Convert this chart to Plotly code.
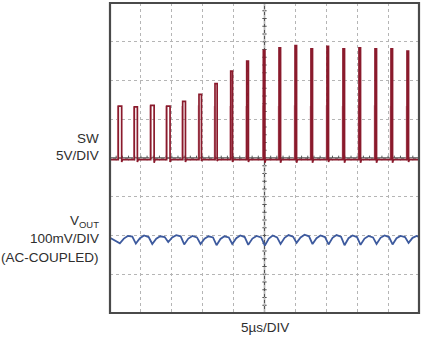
import plotly.graph_objects as go

# ---------------- data ----------------
# SW node: pulse start times (µs), peak voltage (V), on-time (µs), undershoot (V)
sw_t_us = [1.34, 3.93, 6.59, 9.17, 11.76, 14.40, 16.99, 19.53, 22.12, 24.81,
           27.35, 29.94, 32.52, 35.11, 37.70, 40.29, 42.88, 45.47, 48.06]
sw_peak_v = [6.7, 6.6, 6.8, 6.7, 7.3, 8.2, 9.6, 11.2, 12.5, 13.9,
             14.2, 14.5, 14.1, 14.4, 14.1, 14.2, 14.1, 14.1, 13.8]
sw_on_us = [0.55, 0.50, 0.55, 0.55, 0.45, 0.40, 0.35, 0.30, 0.28, 0.25,
            0.25, 0.25, 0.25, 0.25, 0.25, 0.25, 0.25, 0.25, 0.25]
sw_under_v = [0.5, 0.5, 0.6, 0.5, 0.5, 0.4, 0.4, 0.5, 0.5, 0.6,
              0.6, 0.6, 0.6, 0.5, 0.6, 0.6, 0.6, 0.6, 0.5]
sw_base_v = -0.2
# faint persistence ghost of the SW pulses (V)
ghost_peak_v = [6.7, 6.6, 6.8, 6.7, 6.7, 6.8, 6.7, 6.7, 6.7, 6.8,
                6.7, 6.8, 6.7, 6.8, 6.7, 6.7, 6.8, 6.7, 6.7]

# VOUT ripple (mV, AC-coupled), per switching cycle
vout_cusp_mv = [-20, -21, -22, -17, -23, -22, -25, -22, -24, -26,
                -22, -19, -22, -23, -25, -24, -22, -23, -19]
vout_rise_mv = [-8, -7, -8, -5, -8, -8, -9, -7, -8, -8,
                -6, -5, -7, -6, -7, -8, -6, -7, -6]
vout_peak_mv = [-1, 0, -2, 1, -1, -2, -2, 0, -1, 0,
                1, 2, 0, 1, 0, -1, 0, -1, -1]
vout_fall_mv = [-3, -4, -4, -2, -5, -5, -5, -4, -5, -5,
                -3, -2, -4, -3, -4, -5, -4, -4, -3]
vout_start_mv = -6
vout_end_mv = -4

# scope settings
sw_v_per_div = 5.0
vout_mv_per_div = 100.0
vout_offset_div = -2.0
time_per_div_us = 5.0
n_xdiv, n_ydiv = 10, 8

# ---------------- build traces ----------------
sw_x, sw_y = [0.0], [sw_base_v / sw_v_per_div]
for t, h, w, u in zip(sw_t_us, sw_peak_v, sw_on_us, sw_under_v):
    sw_x += [t, t, t + w, t + w, t + w + 0.15]
    sw_y += [sw_base_v / sw_v_per_div, h / sw_v_per_div, h / sw_v_per_div,
             -u / sw_v_per_div, sw_base_v / sw_v_per_div]
sw_x.append(n_xdiv * time_per_div_us)
sw_y.append(sw_base_v / sw_v_per_div)

gh_x, gh_y = [], []
for t, h in zip(sw_t_us, ghost_peak_v):
    gh_x += [t - 0.1, t - 0.1, None]
    gh_y += [sw_base_v / sw_v_per_div, h / sw_v_per_div, None]

vo_x, vo_y = [0.0], [vout_start_mv]
cusp_t = [t + 0.25 for t in sw_t_us]
for i, tc in enumerate(cusp_t):
    T = (cusp_t[i + 1] - tc) if i + 1 < len(cusp_t) else 2.59
    pts = [(tc, vout_cusp_mv[i]), (tc + 0.25 * T, vout_rise_mv[i]),
           (tc + 0.5 * T, vout_peak_mv[i]), (tc + 0.78 * T, vout_fall_mv[i])]
    for px, py in pts:
        if px <= 50:
            vo_x.append(px)
            vo_y.append(py)
vo_x.append(50.0)
vo_y.append(vout_end_mv)
vo_y = [vout_offset_div + v / vout_mv_per_div for v in vo_y]

fig = go.Figure()
fig.add_trace(go.Scatter(x=gh_x, y=gh_y, mode="lines",
                         line=dict(color="#dcaab3", width=1.4),
                         hoverinfo="skip", showlegend=False))
fig.add_trace(go.Scatter(x=sw_x, y=sw_y, mode="lines",
                         line=dict(color="#8a1a2c", width=1.7),
                         showlegend=False))
fig.add_trace(go.Scatter(x=vo_x, y=vo_y, mode="lines",
                         line=dict(color="#3d5a9e", width=1.8),
                         showlegend=False))

# ---------------- graticule ----------------
xmax = n_xdiv * time_per_div_us
ymax = n_ydiv / 2
shapes = []
xc = xmax / 2
shapes.append(dict(type="line", x0=xc, x1=xc, y0=-ymax, y1=ymax,
                   line=dict(color="#555555", width=1.3), layer="below"))
shapes.append(dict(type="line", x0=0, x1=xmax, y0=0, y1=0,
                   line=dict(color="#555555", width=1.3), layer="below"))
for k in range(-n_ydiv * 5 // 2, n_ydiv * 5 // 2 + 1):
    yy = k * 0.2
    shapes.append(dict(type="line", x0=xc - 0.35, x1=xc + 0.35, y0=yy, y1=yy,
                       line=dict(color="#555555", width=1), layer="below"))
for k in range(0, n_xdiv * 5 + 1):
    xx = k * time_per_div_us / 5
    shapes.append(dict(type="line", x0=xx, x1=xx, y0=-0.06, y1=0.06,
                       line=dict(color="#555555", width=1), layer="below"))
shapes.append(dict(type="rect", xref="paper", yref="paper", x0=0, x1=1, y0=0, y1=1,
                   line=dict(color="#4a4a4a", width=2.2)))

font = dict(family="Liberation Sans, Arial", size=13.5, color="#2e2e2e")

def px2paper(xp, yp):
    return (xp - 110) / 309.0, (313 - yp) / 310.0

ann = []
for txt, xp, yp in [("SW", 101, 138.5), ("5V/DIV", 101, 155),
                    ("V<sub>OUT</sub>", 101, 221), ("100mV/DIV", 101, 238),
                    ("(AC-COUPLED)", 101, 257)]:
    ax_, ay_ = px2paper(xp, yp)
    ann.append(dict(text=txt, x=ax_, y=ay_, xref="paper", yref="paper",
                    xanchor="right", yanchor="middle", showarrow=False, font=font))
ax_, ay_ = px2paper(265, 327)
ann.append(dict(text="5µs/DIV", x=ax_, y=ay_, xref="paper", yref="paper",
                xanchor="center", yanchor="middle", showarrow=False, font=font))

fig.update_layout(
    width=435, height=342,
    margin=dict(l=110, r=16, t=3, b=29),
    paper_bgcolor="white", plot_bgcolor="white",
    shapes=shapes, annotations=ann,
    xaxis=dict(range=[0, xmax], dtick=time_per_div_us, tick0=0, showgrid=True,
               gridcolor="#b5b5b5", griddash="dot", gridwidth=1,
               zeroline=False, showticklabels=False, ticks="", fixedrange=True),
    yaxis=dict(range=[-ymax, ymax], dtick=1, tick0=0, showgrid=True,
               gridcolor="#b5b5b5", griddash="dot", gridwidth=1,
               zeroline=False, showticklabels=False, ticks="", fixedrange=True),
)
fig.write_html("out.html")
